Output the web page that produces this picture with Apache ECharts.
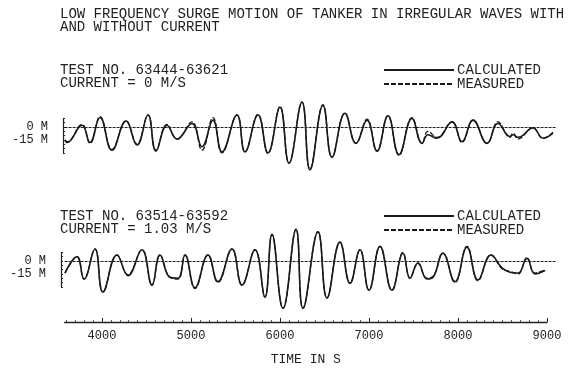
<!DOCTYPE html>
<html>
<head>
<meta charset="utf-8">
<script src="https://cdn.jsdelivr.net/npm/echarts@6/dist/echarts.min.js"></script>
<style>
  html, body { margin: 0; padding: 0; background: #fff; }
  #chart { width: 577px; height: 368px; }
</style>
</head>
<body>
<div id="chart"></div>
<script>
// time in s, surge in m
const t1 = [3584, 3607, 3775, 3865, 3978, 4112, 4270, 4393, 4517, 4607, 4730, 4843, 5011, 5124, 5247, 5348,
  5517, 5607, 5753, 5865, 6000, 6101, 6247, 6337, 6483, 6584, 6730, 6854, 6978, 7090, 7213, 7337,
  7483, 7596, 7663, 7764, 7933, 8045, 8169, 8326, 8449, 8584, 8618, 8674, 8843, 8955, 9067];
const calc1 = [-15, -18, 2, -18, 11, -27, 7, -21, 14, -28, 2, -14, 4, -23, 8, -29,
  14, -29, 14, -30, 23, -42, 29, -50, 25, -35, 16, -19, 8, -28, 13, -32,
  10, -19, -9, -13, 6, -17, 8, -19, 4, -11, -9, -12, -1, -13, -7];
const meas1 = [-15, -17, 3, -19, 12, -26, 7, -20, 14, -27, 3, -14, 6, -27, 11, -30,
  14, -29, 15, -31, 24, -42, 29, -49, 26, -35, 16, -19, 9, -28, 13, -33,
  11, -19, -5, -12, 6, -18, 8, -19, 6, -12, -7, -14, -1, -13, -6];

const t2 = [3584, 3719, 3798, 3921, 4011, 4169, 4292, 4449, 4562, 4652, 4764, 4854, 4933, 5045, 5191, 5303,
  5461, 5573, 5719, 5831, 5910, 6034, 6180, 6258, 6427, 6528, 6674, 6787, 6899, 7000, 7124, 7258,
  7382, 7461, 7551, 7652, 7719, 7831, 7966, 8101, 8225, 8371, 8494, 8584, 8674, 8775, 8865, 8978];
const calc2 = [-14, 5, -21, 14, -36, 7, -17, 13, -28, 7, -19, -20, 7, -31, 7, -24,
  14, -28, 13, -42, 31, -55, 37, -55, 34, -43, 22, -26, 13, -34, 17, -34,
  9, -20, -2, -21, -19, 9, -24, 16, -22, 7, -8, -13, -14, 3, -15, -11];
const meas2 = [-14, 5, -21, 14, -36, 7, -16, 13, -28, 7, -19, -21, 7, -32, 7, -25,
  14, -28, 13, -42, 31, -55, 37, -55, 34, -43, 22, -26, 13, -34, 17, -34,
  10, -20, -3, -20, -18, 9, -25, 17, -23, 7, -9, -12, -15, 4, -14, -10];

const xTicks = [4000, 5000, 6000, 7000, 8000, 9000];
const yTicks = [0, -15];
const yTickLabels = ['0 M', '-15 M'];
const zeroLine = 0;

const mono = 'Liberation Mono';
const ink = '#222';

const pair = (t, v) => t.map((x, i) => [x, v[i]]);

const yLabel = (v) => {
  const i = yTicks.indexOf(v);
  return i >= 0 ? yTickLabels[i] : '';
};

const hiddenX = (min, max) => ({ type: 'value', min: min, max: max, show: false });
const hiddenY = (min, max) => ({ type: 'value', min: min, max: max, show: false });

const surgeY = {
  type: 'value', min: -30, max: 10, interval: 5,
  axisLine: { show: true, lineStyle: { color: ink, width: 1.2 } },
  axisTick: { show: true, inside: true, length: 2, lineStyle: { color: ink } },
  axisLabel: { formatter: yLabel, margin: 15, color: ink, fontFamily: mono, fontSize: 12 },
  splitLine: { show: false }
};

const zeroMark = {
  silent: true, symbol: 'none', label: { show: false },
  lineStyle: { color: ink, type: [3, 1], width: 1 },
  data: [{ yAxis: zeroLine }]
};

const calcStyle = { color: '#1a1a1a', width: 1.6 };
const measStyle = { color: '#1a1a1a', width: 1.3, type: [5, 2] };

const textBlock = (text, left, top) => ({
  text: text, left: left, top: top, padding: 0,
  textStyle: { fontFamily: mono, fontWeight: 'normal', fontSize: 14, color: ink, lineHeight: 13 }
});

const legendAt = (top) => ({
  orient: 'vertical', left: 383, top: top, padding: 0,
  itemWidth: 70, itemHeight: 8, itemGap: 0, selectedMode: false,
  itemStyle: { opacity: 0 },
  textStyle: { fontFamily: mono, fontSize: 14, color: ink, padding: [0, 0, 0, -2] },
  data: ['CALCULATED', 'MEASURED']
});

const option = {
  animation: false,
  backgroundColor: '#fff',
  title: [
    textBlock('LOW FREQUENCY SURGE MOTION OF TANKER IN IRREGULAR WAVES WITH\nAND WITHOUT CURRENT', 60, 8),
    textBlock('TEST NO. 63444-63621\nCURRENT = 0 M/S', 60, 64),
    textBlock('TEST NO. 63514-63592\nCURRENT = 1.03 M/S', 60, 210)
  ],
  legend: [legendAt(63), legendAt(209)],
  grid: [
    { left: 64.6, width: 491.3, top: 66.8, height: 120.4, outerBoundsMode: 'none' },
    { left: 64.6, width: 491.3, top: 200.8, height: 120.4, outerBoundsMode: 'none' },
    { left: 63, width: 1, top: 118.4, height: 34.4, outerBoundsMode: 'none' },
    { left: 61, width: 1, top: 252.4, height: 34.4, outerBoundsMode: 'none' },
    { left: 64.6, width: 482.4, top: 300, height: 22, outerBoundsMode: 'none' }
  ],
  xAxis: [
    Object.assign(hiddenX(3580, 9100), { gridIndex: 0 }),
    Object.assign(hiddenX(3580, 9100), { gridIndex: 1 }),
    Object.assign(hiddenX(0, 1), { gridIndex: 2 }),
    Object.assign(hiddenX(0, 1), { gridIndex: 3 }),
    {
      gridIndex: 4, type: 'value', min: 3580, max: 9000,
      name: 'TIME IN S', nameLocation: 'middle', nameGap: 31,
      nameTextStyle: { fontFamily: mono, fontSize: 13, color: ink },
      axisLine: { show: true, lineStyle: { color: ink, width: 1.3 } },
      axisTick: { show: true, inside: true, length: 4, customValues: xTicks, lineStyle: { color: ink } },
      minorTick: { show: true, splitNumber: 10, length: 2, lineStyle: { color: '#555' } },
      axisLabel: { customValues: xTicks, formatter: (v) => String(v), margin: 8, color: ink, fontFamily: mono, fontSize: 12 },
      splitLine: { show: false }
    }
  ],
  yAxis: [
    Object.assign(hiddenY(-70, 70), { gridIndex: 0 }),
    Object.assign(hiddenY(-70, 70), { gridIndex: 1 }),
    Object.assign({}, surgeY, { gridIndex: 2 }),
    Object.assign({}, surgeY, { gridIndex: 3 }),
    Object.assign(hiddenY(0, 1), { gridIndex: 4 })
  ],
  series: [
    { name: 'CALCULATED', type: 'line', xAxisIndex: 0, yAxisIndex: 0, smooth: 0.45, symbol: 'none',
      lineStyle: calcStyle, itemStyle: { color: '#1a1a1a' }, data: pair(t1, calc1), markLine: zeroMark },
    { name: 'MEASURED', type: 'line', xAxisIndex: 0, yAxisIndex: 0, smooth: 0.45, symbol: 'none',
      lineStyle: measStyle, itemStyle: { color: '#1a1a1a' }, data: pair(t1, meas1) },
    { name: 'CALCULATED', type: 'line', xAxisIndex: 1, yAxisIndex: 1, smooth: 0.45, symbol: 'none',
      lineStyle: calcStyle, itemStyle: { color: '#1a1a1a' }, data: pair(t2, calc2), markLine: zeroMark },
    { name: 'MEASURED', type: 'line', xAxisIndex: 1, yAxisIndex: 1, smooth: 0.45, symbol: 'none',
      lineStyle: measStyle, itemStyle: { color: '#1a1a1a' }, data: pair(t2, meas2) }
  ]
};

const myChart = echarts.init(document.getElementById('chart'));
myChart.setOption(option);
</script>
</body>
</html>
